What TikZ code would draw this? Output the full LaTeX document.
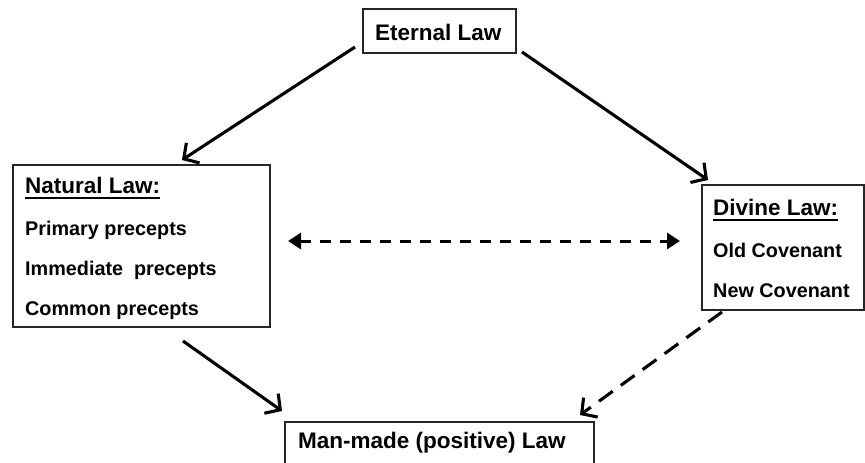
\documentclass[tikz,border=0pt]{standalone}
\usepackage{fontspec}
\setmainfont{Liberation Sans}
\usetikzlibrary{arrows.meta,calc}
\begin{document}
\begin{tikzpicture}[x=1pt,y=-1pt,
  box/.style={draw=black!85,line width=1.6pt,inner sep=0pt,rectangle},
  item/.style={anchor=base west,inner sep=0pt,font=\fontsize{19.8}{22}\selectfont\bfseries},
  ttl/.style={anchor=base west,inner sep=0pt,font=\fontsize{22.5}{26}\selectfont\bfseries},
  uline/.style={line width=1.6pt},
  solidarrow/.style={line width=3.1pt,-{Straight Barb[length=11pt,width=24pt,line width=3.1pt]}},
  dasharrow/.style={line width=3.1pt,dash pattern=on 17pt off 10pt,-{Straight Barb[length=11pt,width=24pt,line width=3.1pt]}},
  twoarrow/.style={line width=3pt,dash pattern=on 11pt off 9pt,{Triangle[length=13pt,width=16pt]}-{Triangle[length=13pt,width=16pt]}}
]
\useasboundingbox (0,0) rectangle (865,463);
\clip (0,0) rectangle (865,463);
\fill[white] (0,0) rectangle (865,463);

% boxes
\node[box,minimum width=153pt,minimum height=44pt] (eternal) at (439.5,31) {};
\node[box,minimum width=257pt,minimum height=162pt] (natural) at (141.5,246) {};
\node[box,minimum width=162pt,minimum height=125pt] (divine) at (783,247.5) {};
\node[box,minimum width=309pt,minimum height=60pt] (man) at (439.5,452) {};

% texts
\node[ttl] (eternalt) at (375,40) {Eternal Law};
\node[ttl] (naturalt) at (25,193) {Natural Law:};
\node[item] (n1) at (25,235) {Primary precepts};
\node[item] (n2) at (25,275) {Immediate\ \ precepts};
\node[item] (n3) at (25,315) {Common precepts};
\node[ttl] (divinet) at (713,215) {Divine Law:};
\node[item] (d1) at (713,257) {Old Covenant};
\node[item] (d2) at (713,297) {New Covenant};
\node[ttl] (mant) at (298,448) {Man-made (positive) Law};

% underlines
\draw[uline] ([yshift=-5pt]naturalt.base west) -- ([yshift=-5pt]naturalt.base east);
\draw[uline] ([yshift=-5pt]divinet.base west) -- ([yshift=-5pt]divinet.base east);

% connector end points
\coordinate (e1) at (355,47);
\coordinate (e2) at (522,52);
\coordinate (nTip) at (182,160);
\coordinate (dTip) at (708,180);
\coordinate (nOut) at (183,341);
\coordinate (mTipL) at (282,411);
\coordinate (dOut) at (722,312);
\coordinate (mTipR) at (580,415);
\coordinate (hL) at (288,241);
\coordinate (hR) at (680,241);

\draw[solidarrow] (e1) -- (nTip);
\draw[solidarrow] (e2) -- (dTip);
\draw[solidarrow] (nOut) -- (mTipL);
\draw[dasharrow] (dOut) -- (mTipR);
\draw[twoarrow] (hL) -- (hR);
\end{tikzpicture}
\end{document}
